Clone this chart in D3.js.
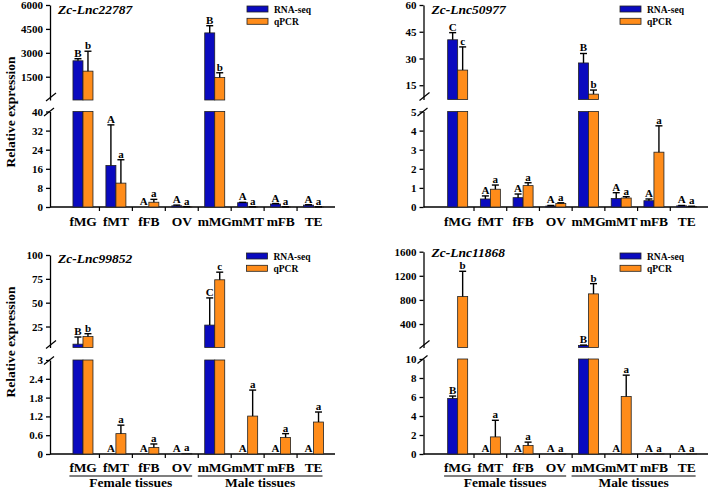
<!DOCTYPE html>
<html><head><meta charset="utf-8">
<script src="https://cdn.jsdelivr.net/npm/d3@7"></script>
<style>
body{margin:0;background:#fff}
svg{display:block}
text{font-family:"Liberation Serif","Times New Roman",serif;font-weight:bold;fill:#000}
</style>
</head><body>
<svg id="c" width="709" height="490"></svg>
<script>
// ---------- DATA ----------
const tissues = ["fMG","fMT","fFB","OV","mMG","mMT","mFB","TE"];
const tissueGroups = ["Female tissues","Male tissues"];
const groupOf = ["Female tissues","Female tissues","Female tissues","Female tissues","Male tissues","Male tissues","Male tissues","Male tissues"];
const seriesNames = ["RNA-seq","qPCR"];
const genes = ["Zc-Lnc22787","Zc-Lnc50977","Zc-Lnc99852","Zc-Lnc11868"];

// Zc-Lnc22787
const rna22787     = [2500, 17.4, 0,   0.5,  4250, 1.8,  1.25, 0.8];
const rnaErr22787  = [130,  17,   0,   0.3,  450,  0.15, 0.2,  0.15];
const qpcr22787    = [1850, 10,   2,   0.1,  1450, 0.05, 0.05, 0.05];
const qpcrErr22787 = [1250, 9.8,  1.2, 0.05, 300,  0.03, 0.03, 0.03];
const rnaLet22787  = ["B","A","A","A","B","A","A","A"];
const qpcrLet22787 = ["b","a","a","a","b","a","a","a"];
const break22787   = [40, 6000];   // upper segment domain
const lower22787   = [0, 40];      // lower segment domain
const ticksU22787  = [1500, 3000, 4500, 6000];
const ticksL22787  = [0, 8, 16, 24, 32, 40];

// Zc-Lnc50977
const rna50977     = [40.5, 0.42, 0.49, 0.05, 27.5, 0.45, 0.33, 0.06];
const rnaErr50977  = [4,    0.16, 0.19, 0.03, 5.3,  0.3,  0.09, 0.02];
const qpcr50977    = [23.5, 0.93, 1.12, 0.19, 10,   0.47, 2.87, 0.03];
const qpcrErr50977 = [13,   0.22, 0.15, 0.03, 2.3,  0.07, 1.38, 0.01];
const rnaLet50977  = ["C","A","A","A","B","A","A","A"];
const qpcrLet50977 = ["c","a","a","a","b","a","a","a"];
const break50977   = [7, 60];
const lower50977   = [0, 5];
const ticksU50977  = [15, 30, 45, 60];
const ticksL50977  = [0, 1, 2, 3, 4, 5];

// Zc-Lnc99852
const rna99852     = [6.5, 0,    0,    0,    26.5, 0,    0,    0];
const rnaErr99852  = [7.5, 0,    0,    0,    28.5, 0,    0,    0];
const qpcr99852    = [14.5, 0.65, 0.21, 0.02, 74,  1.21, 0.53, 1.02];
const qpcrErr99852 = [3,   0.27, 0.11, 0,    8,    0.83, 0.12, 0.32];
const rnaLet99852  = ["B","A","A","A","C","A","A","A"];
const qpcrLet99852 = ["b","a","a","a","c","a","a","a"];
const break99852   = [3, 100];
const lower99852   = [0, 3];
const ticksU99852  = [25, 50, 75, 100];
const ticksL99852  = [0, 0.6, 1.2, 1.8, 2.4, 3];

// Zc-Lnc11868
const rna11868     = [5.85, 0,    0,    0,    45,  0,    0,    0];
const rnaErr11868  = [0.25, 0,    0,    0,    5,   0,    0,    0];
const qpcr11868    = [855,  1.8,  0.9,  0.03, 900, 6.05, 0.03, 0.03];
const qpcrErr11868 = [420,  1.75, 0.35, 0,    170, 2.25, 0,    0];
const rnaLet11868  = ["B","A","A","A","B","A","A","A"];
const qpcrLet11868 = ["b","a","a","a","b","a","a","a"];
const break11868   = [10, 1600];
const lower11868   = [0, 10];
const ticksU11868  = [400, 800, 1200, 1600];
const ticksL11868  = [0, 2, 4, 6, 8, 10];

// ---------- LAYOUT ----------
const BLUE = "#0a0abf", ORANGE = "#ff8c1a";
const svg = d3.select("#c");

const panels = [
  {gene:genes[0], vals:[rna22787,qpcr22787], errs:[rnaErr22787,qpcrErr22787], lets:[rnaLet22787,qpcrLet22787],
   up:break22787, lo:lower22787, tU:ticksU22787, tL:ticksL22787,
   ax:50, top:5, upB:100, loT:111.5, base:207, xr:[66.5,330], axEnd:335,
   titleY:14, legX:247, legY:6, ylab:112, groups:false},
  {gene:genes[1], vals:[rna50977,qpcr50977], errs:[rnaErr50977,qpcrErr50977], lets:[rnaLet50977,qpcrLet50977],
   up:break50977, lo:lower50977, tU:ticksU50977, tL:ticksL50977,
   ax:423.5, top:5, upB:99.5, loT:111.5, base:207, xr:[441.3,703], axEnd:708,
   titleY:14, legX:620, legY:6, ylab:null, groups:false},
  {gene:genes[2], vals:[rna99852,qpcr99852], errs:[rnaErr99852,qpcrErr99852], lets:[rnaLet99852,qpcrLet99852],
   up:break99852, lo:lower99852, tU:ticksU99852, tL:ticksL99852,
   ax:50, top:255, upB:347.5, loT:360, base:454, xr:[66.5,330], axEnd:335,
   titleY:263, legX:246.5, legY:253, ylab:342, groups:true},
  {gene:genes[3], vals:[rna11868,qpcr11868], errs:[rnaErr11868,qpcrErr11868], lets:[rnaLet11868,qpcrLet11868],
   up:break11868, lo:lower11868, tU:ticksU11868, tL:ticksL11868,
   ax:423.5, top:251.7, upB:347.5, loT:359, base:454, xr:[441.3,703], axEnd:708,
   titleY:256.5, legX:620, legY:253, ylab:null, groups:true}
];

function fmt(d){ return String(d); }

panels.forEach(p => {
  const g = svg.append("g");
  const x0 = d3.scaleBand().domain(tissues).range(p.xr);
  const bw = x0.bandwidth();
  const x1 = d3.scaleBand().domain(seriesNames).range([bw/2-10, bw/2+10]);
  const yL = d3.scaleLinear().domain(p.lo).range([p.base, p.loT]);
  const yU = d3.scaleLinear().domain(p.up).range([p.upB, p.top]);
  const loMax = p.lo[1];

  // y axes
  const aL = g.append("g").attr("transform",`translate(${p.ax},0)`)
    .call(d3.axisLeft(yL).tickValues(p.tL).tickSize(4).tickSizeOuter(0).tickPadding(3).tickFormat(fmt));
  const aU = g.append("g").attr("transform",`translate(${p.ax},0)`)
    .call(d3.axisLeft(yU).tickValues(p.tU).tickSize(4).tickSizeOuter(0).tickPadding(3).tickFormat(fmt));
  [aL,aU].forEach(a=>{
    a.selectAll("path,line").attr("stroke","#000").attr("stroke-width",1.3);
    a.selectAll("text").style("font-size","11px").style("font-family",'"Liberation Serif",serif').style("font-weight","bold");
  });
  // break marks
  [[p.ax+1, p.upB-3],[p.ax-1, p.loT+0.5]].forEach(([cx,cy])=>{
    g.append("line").attr("x1",cx-5).attr("y1",cy+4).attr("x2",cx+5).attr("y2",cy-4)
      .attr("stroke","#000").attr("stroke-width",1.3);
  });

  // x axis
  g.append("line").attr("x1",p.ax).attr("x2",p.axEnd).attr("y1",p.base).attr("y2",p.base)
    .attr("stroke","#000").attr("stroke-width",1.5);
  g.selectAll(".xt").data(tissues.slice(1)).enter().append("line")
    .attr("x1",d=>x0(d)).attr("x2",d=>x0(d)).attr("y1",p.base).attr("y2",p.base+4)
    .attr("stroke","#000").attr("stroke-width",1.2);

  // bars
  seriesNames.forEach((s,si)=>{
    const col = si===0?BLUE:ORANGE;
    tissues.forEach((t,i)=>{
      const v = p.vals[si][i], e = p.errs[si][i], L = p.lets[si][i];
      const bx = x0(t)+x1(s), w = x1.bandwidth(), cx = bx+w/2;
      let vTop, eTop;
      if (v > loMax) {
        g.append("rect").attr("x",bx).attr("y",p.loT).attr("width",w).attr("height",p.base-p.loT)
          .attr("fill",col).attr("stroke","#222").attr("stroke-width",0.8);
        vTop = yU(v);
        g.append("rect").attr("x",bx).attr("y",vTop).attr("width",w).attr("height",Math.max(0,p.upB-vTop))
          .attr("fill",col).attr("stroke","#222").attr("stroke-width",0.8);
        eTop = yU(v+e);
      } else {
        vTop = yL(v);
        if (v>0) g.append("rect").attr("x",bx).attr("y",vTop).attr("width",w).attr("height",p.base-vTop)
          .attr("fill",col).attr("stroke","#222").attr("stroke-width",0.8);
        eTop = yL(Math.min(v+e, loMax));
      }
      if (e>0) {
        g.append("line").attr("x1",cx).attr("x2",cx).attr("y1",vTop).attr("y2",eTop)
          .attr("stroke","#000").attr("stroke-width",1.4);
        g.append("line").attr("x1",cx-3.5).attr("x2",cx+3.5).attr("y1",eTop).attr("y2",eTop)
          .attr("stroke","#000").attr("stroke-width",1.4);
      }
      g.append("text").attr("x",cx).attr("y",eTop-2).attr("text-anchor","middle")
        .style("font-size","11px").text(L);
    });
  });

  // x labels
  const labs = g.selectAll(".xl").data(tissues).enter().append("text")
    .attr("x",d=>x0(d)+bw/2).attr("y",p.base+(p.groups?18:19)).attr("text-anchor","middle")
    .style("font-size","13.5px").style("letter-spacing","-0.2px").text(d=>d);

  if (p.groups) {
    tissueGroups.forEach(gr=>{
      const nodes = labs.filter((d,i)=>groupOf[i]===gr).nodes();
      const bbs = nodes.map(n=>n.getBBox());
      const x1e = d3.min(bbs,b=>b.x), x2e = d3.max(bbs,b=>b.x+b.width);
      g.append("line").attr("x1",x1e).attr("x2",x2e).attr("y1",p.base+22).attr("y2",p.base+22)
        .attr("stroke","#000").attr("stroke-width",1.2);
      g.append("text").attr("x",(x1e+x2e)/2).attr("y",486.5).attr("text-anchor","middle")
        .style("font-size","13.5px").text(gr);
    });
  }

  // title
  g.append("text").attr("x",p.ax+8).attr("y",p.titleY).style("font-size","13.5px")
    .style("font-style","italic").text(p.gene);

  // legend
  seriesNames.forEach((s,si)=>{
    const ly = p.legY + si*12.3;
    g.append("rect").attr("x",p.legX).attr("y",ly).attr("width",21).attr("height",6)
      .attr("fill",si===0?BLUE:ORANGE).attr("stroke","#222").attr("stroke-width",0.8);
    g.append("text").attr("x",p.legX+27).attr("y",ly+6.5).style("font-size","9.5px").text(s);
  });

  // y label
  if (p.ylab!==null) {
    g.append("text").attr("transform",`translate(14.5,${p.ylab}) rotate(-90)`).attr("text-anchor","middle")
      .style("font-size","13.5px").text("Relative expression");
  }
});
</script>
</body></html>
